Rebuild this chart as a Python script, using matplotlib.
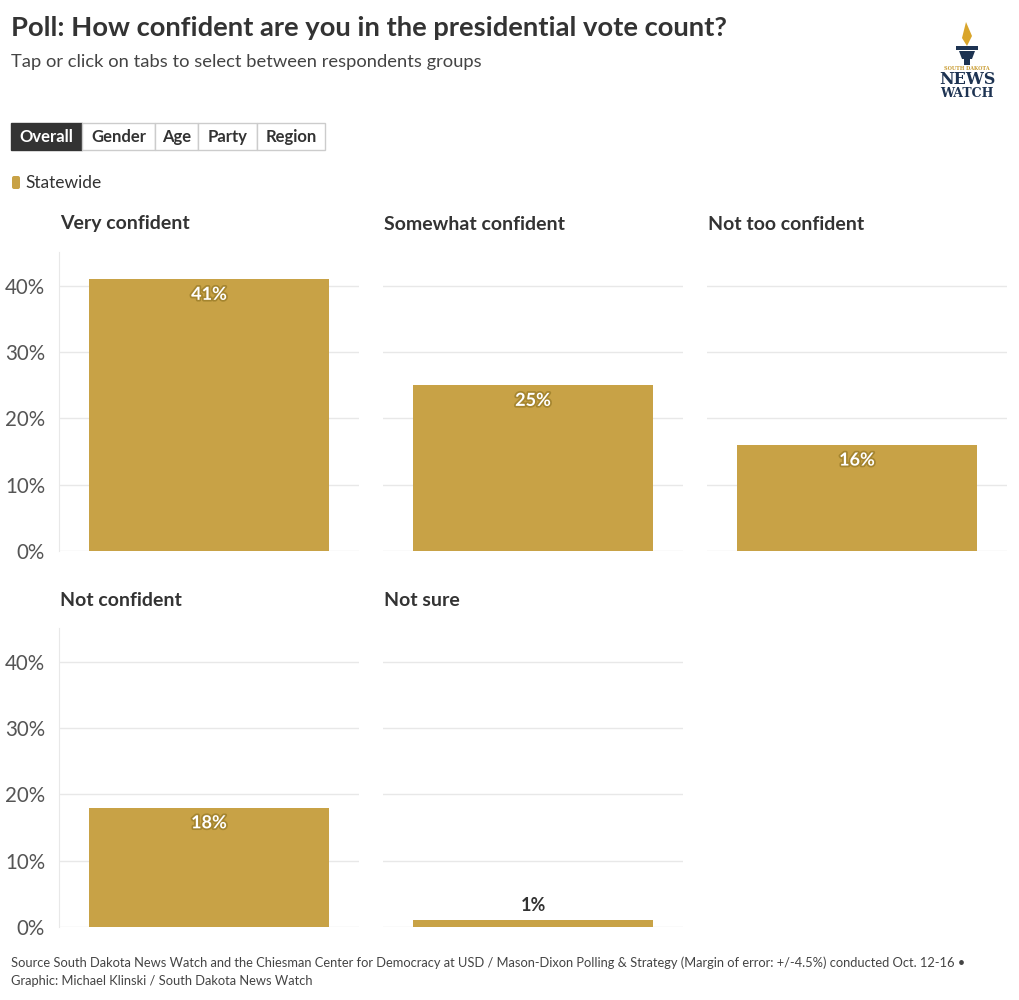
import matplotlib
matplotlib.use("Agg")
import matplotlib.pyplot as plt
import matplotlib.patheffects as pe
from matplotlib.patches import FancyBboxPatch, Rectangle, Polygon

plt.rcParams["font.family"] = ["Lato", "DejaVu Sans"]

# data
categories = ["Very confident", "Somewhat confident", "Not too confident",
              "Not confident", "Not sure"]
values = [41, 25, 16, 18, 1]
series_name = "Statewide"
tabs = ["Overall", "Gender", "Age", "Party", "Region"]
yticks = [0, 10, 20, 30, 40]

BAR = "#c8a246"
GRID = "#e8e8e8"
DARK = "#333333"
W, H = 1020, 1000

fig = plt.figure(figsize=(W / 100, H / 100), dpi=100)


def fx(px):
    return px / W


def fy(py):
    return 1 - py / H


# header
fig.text(fx(11), fy(28), "Poll: How confident are you in the presidential vote count?",
         fontsize=19.7, fontweight="bold", color=DARK, va="center")
fig.text(fx(11), fy(62), "Tap or click on tabs to select between respondents groups",
         fontsize=13.2, color="#444444", va="center")

# tabs
tab_edges = [11, 82, 155, 198, 257, 325]
for i, name in enumerate(tabs):
    x0, x1 = tab_edges[i], tab_edges[i + 1]
    active = i == 0
    fig.patches.append(Rectangle((fx(x0), fy(150)), fx(x1 - x0), (150 - 123) / H,
                                 transform=fig.transFigure,
                                 facecolor=DARK if active else "white",
                                 edgecolor=DARK if active else "#cccccc", lw=1))
    fig.text(fx((x0 + x1) / 2), fy(136.5), name, fontsize=12, fontweight="bold",
             color="white" if active else DARK, ha="center", va="center")

# legend
fig.patches.append(FancyBboxPatch((fx(12), fy(189)), fx(8), 13 / H,
                                  boxstyle="round,pad=0,rounding_size=0.002",
                                  transform=fig.transFigure, facecolor=BAR, edgecolor="none"))
fig.text(fx(25), fy(183), series_name, fontsize=12.5, color=DARK, va="center")

# logo
lx = 967
NAVY = "#1d3352"
fig.patches.append(Polygon([(fx(lx - 5), fy(38)), (fx(lx - 1), fy(22)), (fx(lx + 5), fy(36)),
                            (fx(lx), fy(46))], closed=True, transform=fig.transFigure,
                           facecolor="#d9a52b", edgecolor="none"))
fig.patches.append(Rectangle((fx(lx - 11), fy(50)), fx(22), 4 / H, transform=fig.transFigure,
                             facecolor=NAVY, edgecolor="none"))
fig.patches.append(Polygon([(fx(lx - 8), fy(51)), (fx(lx + 8), fy(51)), (fx(lx + 5), fy(59)),
                            (fx(lx - 5), fy(59))], closed=True, transform=fig.transFigure,
                           facecolor=NAVY, edgecolor="none"))
fig.patches.append(Rectangle((fx(lx - 3), fy(65)), fx(6), 6 / H, transform=fig.transFigure,
                             facecolor=NAVY, edgecolor="none"))
fig.text(fx(lx), fy(68.5), "SOUTH DAKOTA", fontsize=3.5, color="#c89a2e", ha="center",
         va="center", family="DejaVu Serif", fontweight="bold")
fig.text(fx(lx), fy(79.5), "NEWS", fontsize=11.5, color=NAVY, ha="center", va="center",
         family="DejaVu Serif", fontweight="bold")
fig.text(fx(lx), fy(93.5), "WATCH", fontsize=9, color=NAVY, ha="center", va="center",
         family="DejaVu Serif", fontweight="bold")

# panels
panel_lefts = [59, 383, 707]
rows = [(252, 551), (628, 927)]
for i, (cat, val) in enumerate(zip(categories, values)):
    r, c = divmod(i, 3)
    top, bot = rows[r]
    left = panel_lefts[c]
    ax = fig.add_axes([fx(left), fy(bot), fx(300), (bot - top) / H])
    ax.bar([0], [val], width=0.8, color=BAR, zorder=2)
    ax.set_xlim(-0.5, 0.5)
    ax.set_ylim(0, 45.1)
    ax.set_yticks(yticks)
    ax.grid(axis="y", color=GRID, lw=1, zorder=0)
    ax.set_xticks([])
    for s in ax.spines.values():
        s.set_visible(False)
    if c == 0:
        ax.spines["left"].set_visible(True)
        ax.spines["left"].set_color(GRID)
        ax.set_yticklabels([f"{t}%" for t in yticks])
        ax.tick_params(axis="y", length=0, pad=10, labelsize=14.8, labelcolor="#555555")
    else:
        ax.tick_params(axis="y", length=0, labelleft=False)
    if val >= 5:
        ax.text(0, val - 1.0, f"{val}%", ha="center", va="top", fontsize=13,
                fontweight="bold", color="white", zorder=3,
                path_effects=[pe.withStroke(linewidth=2.5, foreground="#a5852f")])
    else:
        ax.text(0, val + 1.0, f"{val}%", ha="center", va="bottom", fontsize=13,
                fontweight="bold", color=DARK, zorder=3)
    fig.text(fx(left + 1), fy(top - 28), cat, fontsize=14, fontweight="bold",
             color=DARK, va="center")

# footer
fig.text(fx(11), fy(963), "Source South Dakota News Watch and the Chiesman Center for Democracy at USD / "
         "Mason-Dixon Polling & Strategy (Margin of error: +/-4.5%) conducted Oct. 12-16 \u2022",
         fontsize=9.3, color="#444444", va="center")
fig.text(fx(11), fy(981), "Graphic: Michael Klinski / South Dakota News Watch",
         fontsize=9.3, color="#444444", va="center")

fig.savefig("out.png", dpi=100, facecolor="white")
